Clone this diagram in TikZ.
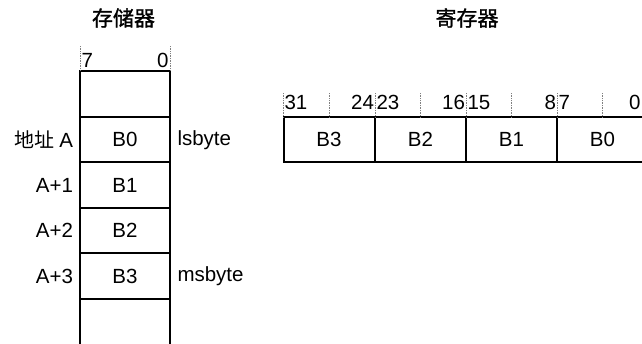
\documentclass[tikz,border=0pt]{standalone}
\usepackage{fontspec}
\setmainfont{Liberation Sans}
\newfontfamily\cjk{Noto Sans CJK SC}
\newfontfamily\cjkt[FakeBold=1.2]{Noto Sans CJK SC}
\begin{document}
\begin{tikzpicture}[x=1pt,y=-1pt,
  font=\fontsize{20.5}{24}\selectfont,
  memcell/.style={draw, line width=2pt, minimum width=90pt, minimum height=45.5pt, inner sep=0pt, outer sep=0pt},
  regcell/.style={draw, line width=2pt, minimum width=91pt, minimum height=45pt, inner sep=0pt, outer sep=0pt},
  bittick/.style={densely dotted, gray, line width=0.7pt},
  lbl/.style={inner sep=0pt, outer sep=0pt},
  title/.style={inner sep=0pt, outer sep=0pt, font=\cjkt\fontsize{21}{24}\selectfont}]
\useasboundingbox (0,0) rectangle (642,343);
% titles
\node[title] (t1) at (123.5,18) {存储器};
\node[title] (t2) at (467,18) {寄存器};
% memory column
\node[memcell] (m0) at (125,94) {};
\node[memcell] (m1) at (125,139.5) {B0};
\node[memcell] (m2) at (125,185) {B1};
\node[memcell] (m3) at (125,230.5) {B2};
\node[memcell] (m4) at (125,276) {B3};
\node[memcell, minimum height=56pt] (m5) at (125,326.5) {};
% memory bit ticks
\draw[bittick] (80,46) -- (80,71);
\draw[bittick] (170,46) -- (170,71);
\node[lbl, anchor=base west] (b7) at (81.5,67) {7};
\node[lbl, anchor=base east] (b0) at (168.5,67) {0};
% address labels
\node[lbl, anchor=east] (aA) at (73,140) {{\cjk\fontsize{20}{23}\selectfont 地址}\hspace{5pt}A};
\node[lbl, anchor=east] (a1) at (73,185) {A+1};
\node[lbl, anchor=east] (a2) at (73,230.5) {A+2};
\node[lbl, anchor=east] (a3) at (73,276) {A+3};
\node[lbl, anchor=west] (ls) at (177.5,140) {lsbyte};
\node[lbl, anchor=west] (ms) at (177.5,276) {msbyte};
% register
\node[regcell] (r3) at (329,139.5) {B3};
\node[regcell] (r2) at (420.5,139.5) {B2};
\node[regcell] (r1) at (511.5,139.5) {B1};
\node[regcell] (r0) at (602.5,139.5) {B0};
\foreach \xx in {283,329,375,420.5,466,511.5,557,602}
  \draw[bittick] (\xx,93) -- (\xx,117);
\node[lbl, anchor=base west] (n31) at (284.5,109) {31};
\node[lbl, anchor=base east] (n24) at (374,109) {24};
\node[lbl, anchor=base west] (n23) at (376.5,109) {23};
\node[lbl, anchor=base east] (n16) at (465,109) {16};
\node[lbl, anchor=base west] (n15) at (467.5,109) {15};
\node[lbl, anchor=base east] (n8) at (556,109) {8};
\node[lbl, anchor=base west] (n7) at (558.5,109) {7};
\node[lbl, anchor=base east] (n0) at (640.5,109) {0};
\end{tikzpicture}
\end{document}
